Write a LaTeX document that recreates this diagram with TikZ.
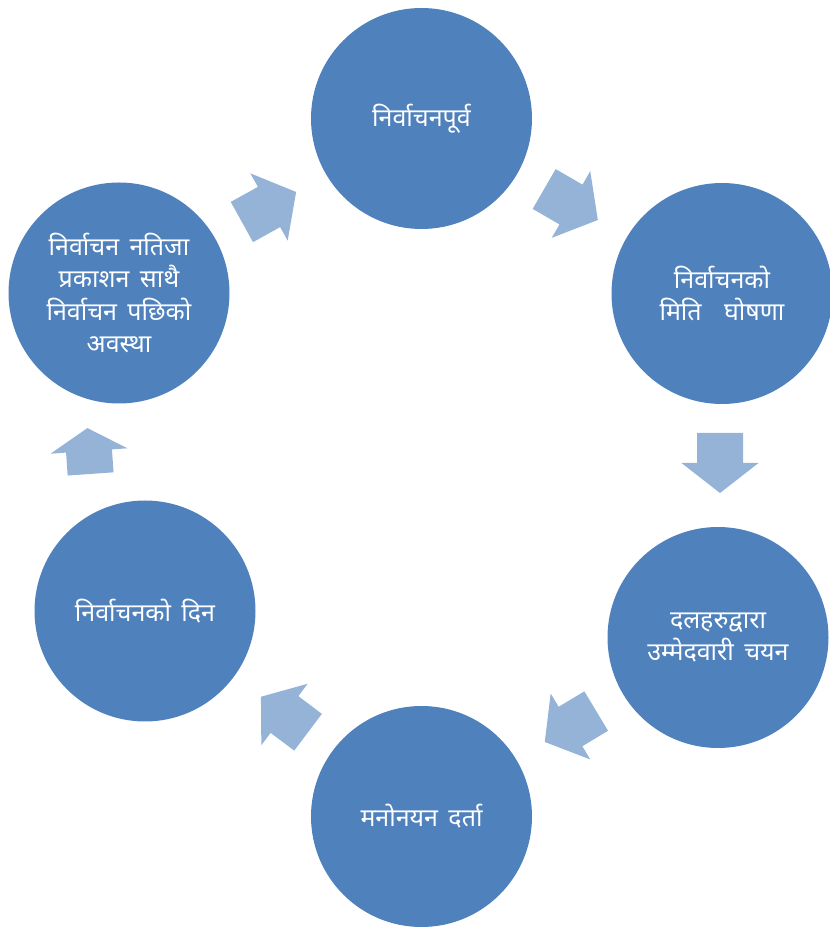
\documentclass[tikz,border=0pt]{standalone}
\usepackage{fontspec}
\newfontfamily\deva[Script=Devanagari,WordSpace=1.6]{Noto Sans}
\definecolor{circblue}{HTML}{4F81BD}
\definecolor{arrblue}{HTML}{95B3D7}
\newcommand\blockarr[4]{%
  \begin{scope}[shift={(#1,#2)},rotate=#3]
    \fill[arrblue] (-#4/2,-23) -- (0,-23) -- (0,-38.5) -- (#4/2,0) -- (0,38.5) -- (0,23) -- (-#4/2,23) -- cycle;
  \end{scope}}
\begin{document}
\begin{tikzpicture}[x=1pt,y=1pt,
  stage/.style={circle,fill=circblue,minimum size=221pt,inner sep=0pt,text=white,align=center,
    font=\deva\fontsize{25}{32.5}\selectfont}]
\useasboundingbox (0,0) rectangle (830,927);
\node[stage] (s1) at (421.5,808.5) {निर्वाचनपूर्व};
\node[stage] (s2) at (722,633.5) {निर्वाचनको\\मिति\hspace{0.9em}घोषणा};
\node[stage] (s3) at (718,289.5) {दलहरुद्वारा\\उम्मेदवारी चयन};
\node[stage] (s4) at (421.5,110.5) {मनोनयन दर्ता};
\node[stage] (s5) at (145,316) {निर्वाचनको दिन};
\node[stage] (s6) at (119,634) {निर्वाचन नतिजा\\प्रकाशन साथै\\निर्वाचन पछिको\\अवस्था};
\blockarr{269}{720}{29}{62}
\blockarr{571}{722.5}{-30}{62}
\blockarr{720}{464}{-90}{60}
\blockarr{570.5}{200.5}{-149}{60}
\blockarr{284.5}{212.5}{143}{59}
\blockarr{89}{476}{94}{46}
\end{tikzpicture}
\end{document}
